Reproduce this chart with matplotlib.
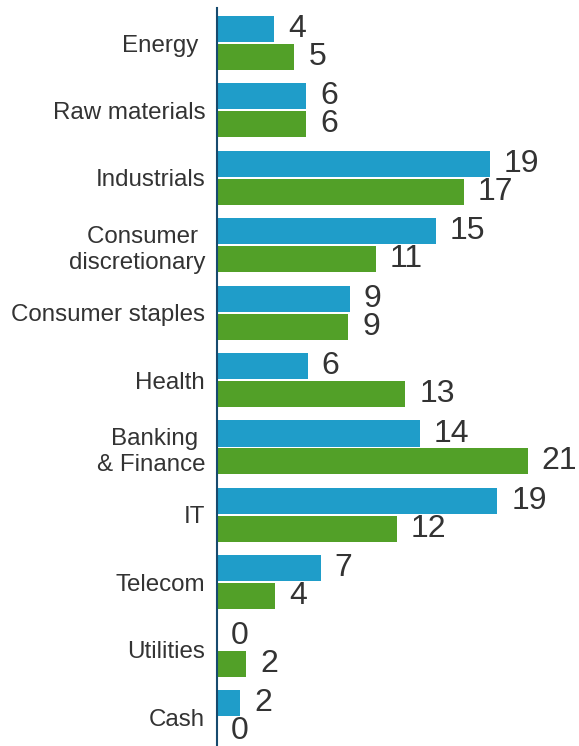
import matplotlib
matplotlib.use("Agg")
import matplotlib.pyplot as plt
import numpy as np

categories = ["Energy ", "Raw materials", "Industrials", "Consumer \ndiscretionary",
              "Consumer staples", "Health", "Banking \n& Finance", "IT", "Telecom",
              "Utilities", "Cash"]
blue_values = [3.9, 6.1, 18.7, 15.0, 9.1, 6.2, 13.9, 19.2, 7.1, 0.0, 1.6]
green_values = [5.3, 6.1, 16.9, 10.9, 9.0, 12.9, 21.3, 12.3, 4.0, 2.0, 0.0]
blue_labels = ["4", "6", "19", "15", "9", "6", "14", "19", "7", "0", "2"]
green_labels = ["5", "6", "17", "11", "9", "13", "21", "12", "4", "2", "0"]

BLUE = "#1F9DC9"
GREEN = "#52A028"
TEXT = "#333333"
AXIS = "#174A6E"

plt.rcParams['font.family'] = ['Liberation Sans', 'DejaVu Sans']

fig = plt.figure(figsize=(5.79, 7.46), dpi=100)
ax = fig.add_axes([217 / 579, -0.0064, 1 - 217 / 579, 0.9957])

y = np.arange(len(categories))
h = 0.386
off = 0.207
ax.barh(y - off, blue_values, height=h, color=BLUE)
ax.barh(y + off, green_values, height=h, color=GREEN)

for yi, v, lab in zip(y, blue_values, blue_labels):
    ax.annotate(lab, (v, yi - off), xytext=(10, 0), textcoords="offset points",
                va="center", ha="left", fontsize=23, color=TEXT)
for yi, v, lab in zip(y, green_values, green_labels):
    ax.annotate(lab, (v, yi + off), xytext=(10, 0), textcoords="offset points",
                va="center", ha="left", fontsize=23, color=TEXT)

ax.set_xlim(0, (579 - 217) / 14.6)
ax.set_ylim(10.5, -0.52)
ax.set_yticks(y)
ax.set_yticklabels(categories, fontsize=17.4, color=TEXT, ha="right",
                   linespacing=1.25)
ax.tick_params(axis="y", length=0, pad=8.5)
ax.set_xticks([])
for s in ["top", "right", "bottom"]:
    ax.spines[s].set_visible(False)
ax.spines["left"].set_color(AXIS)
ax.spines["left"].set_linewidth(1.5)
ax.patch.set_visible(False)

fig.savefig("out.png", dpi=100)
